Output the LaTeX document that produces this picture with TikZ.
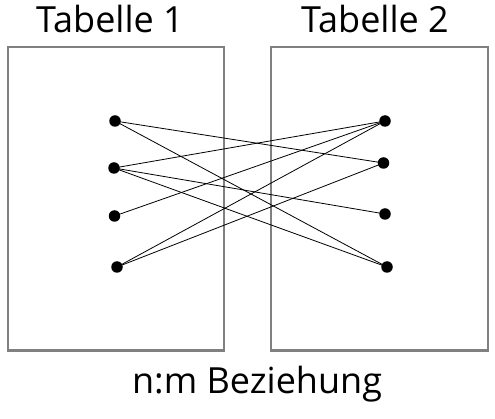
\documentclass[tikz,border=0pt]{standalone}
\usepackage{fontspec}
\setmainfont{Open Sans}
\begin{document}
\begin{tikzpicture}[x=1pt,y=-1pt,
  tbl/.style={draw=black!50,line width=2pt},
  dot/.style={circle,fill=black,inner sep=0pt,minimum size=11.5pt},
  link/.style={draw=black,line width=0.8pt},
  title/.style={font=\fontsize{36}{40}\selectfont,anchor=base}]
\useasboundingbox (0,0) rectangle (495,419);
\draw[tbl] (7.5,47.5) rectangle (223.5,350.5);
\draw[tbl] (270.5,47.5) rectangle (488,350.5);
\node[title] (t1) at (110,33) {Tabelle 1};
\node[title] (t2) at (375,33) {Tabelle 2};
\node[title] (cap) at (257,393) {n:m Beziehung};
\node[dot] (l1) at (115,121) {};
\node[dot] (l2) at (114,168) {};
\node[dot] (l3) at (114.5,216) {};
\node[dot] (l4) at (117,267) {};
\node[dot] (r1) at (385,121) {};
\node[dot] (r2) at (383.5,163) {};
\node[dot] (r3) at (385,214) {};
\node[dot] (r4) at (387,267) {};
\draw[link] (l1.center) -- (r2.center);
\draw[link] (l1.center) -- (r4.center);
\draw[link] (l2.center) -- (r1.center);
\draw[link] (l2.center) -- (r3.center);
\draw[link] (l2.center) -- (r4.center);
\draw[link] (l3.center) -- (r1.center);
\draw[link] (l4.center) -- (r1.center);
\draw[link] (l4.center) -- (r2.center);
\end{tikzpicture}
\end{document}
